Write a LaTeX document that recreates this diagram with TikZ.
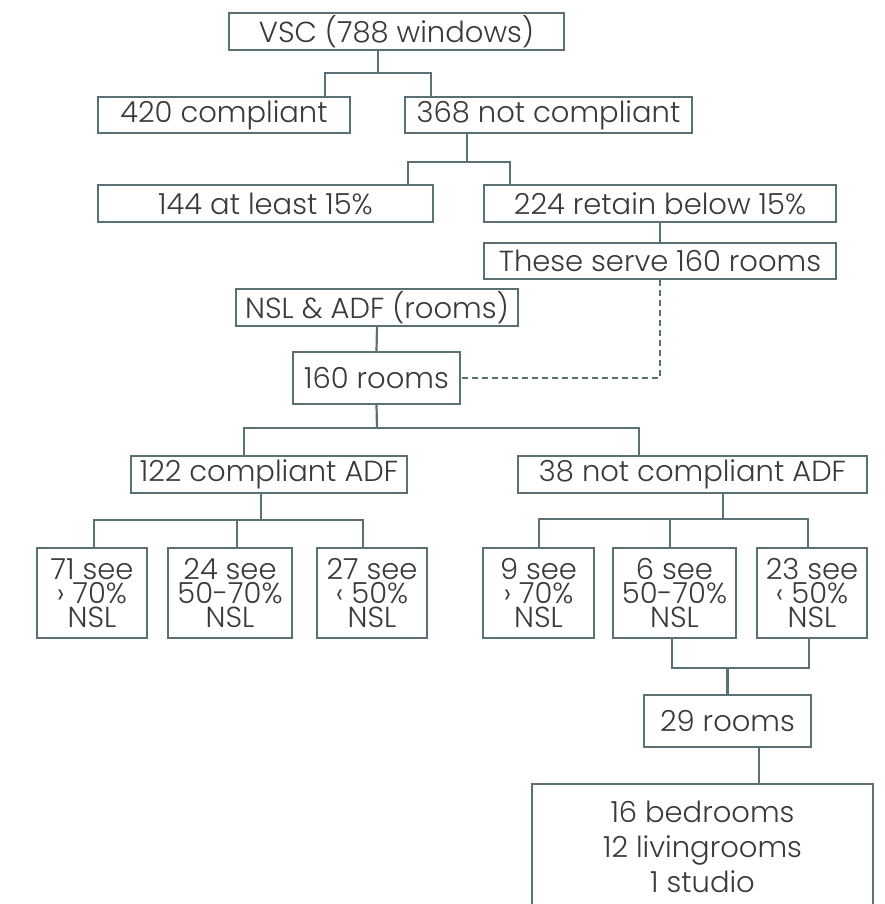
\documentclass[tikz,border=0pt]{standalone}
\usepackage{fontspec}
\setmainfont{Poppins}[UprightFont={* Light}]
\definecolor{boxline}{HTML}{5B7073}
\definecolor{ink}{HTML}{3A3A3A}
\begin{document}
\begin{tikzpicture}[x=1pt,y=-1pt,
  ln/.style={draw=boxline, line width=2.2pt},
  bx/.style={draw=boxline, line width=2.2pt, fill=white, inner sep=0pt,
    align=center, text=ink, font=\fontsize{29}{24}\selectfont},
  bigbox/.style={bx, font=\fontsize{29}{35}\selectfont},
]
\useasboundingbox (0,0) rectangle (884,904);
\clip (0,0) rectangle (884,904);

% window level (VSC)
\node[bx, minimum width=335pt, minimum height=37pt] (vsc) at (396.5,31.5) {VSC (788 windows)};
\node[bx, minimum width=252pt, minimum height=36pt] (c420) at (224,115) {420 compliant};
\node[bx, minimum width=287pt, minimum height=36pt] (c368) at (548.5,115) {368 not compliant};
\node[bx, minimum width=335pt, minimum height=37pt] (c144) at (265.5,203.5) {144 at least 15\%};
\node[bx, minimum width=352pt, minimum height=37pt] (c224) at (660,203.5) {224 retain below 15\%};
\node[bx, minimum width=352pt, minimum height=36pt] (serve) at (660,261) {These serve 160 rooms};

% room level (NSL & ADF)
\node[bx, minimum width=282pt, minimum height=37pt] (nsl) at (377,307.5) {NSL \& ADF (rooms)};
\node[bx, minimum width=167pt, minimum height=52pt] (r160) at (376.5,378) {160 rooms};
\node[bx, minimum width=276pt, minimum height=37pt] (a122) at (269,474.5) {122 compliant ADF};
\node[bx, minimum width=349pt, minimum height=37pt] (a38) at (692.5,474.5) {38 not compliant ADF};

\node[bx, minimum width=110pt, minimum height=90pt] (s71) at (92,593) {71 see\\› 70\%\\NSL};
\node[bx, minimum width=124pt, minimum height=90pt] (s24) at (230,593) {24 see\\50-70\%\\NSL};
\node[bx, minimum width=110pt, minimum height=90pt] (s27) at (372,593) {27 see\\‹ 50\%\\NSL};
\node[bx, minimum width=111pt, minimum height=90pt] (s9) at (538.5,593) {9 see\\› 70\%\\NSL};
\node[bx, minimum width=123pt, minimum height=90pt] (s6) at (674.5,593) {6 see\\50-70\%\\NSL};
\node[bx, minimum width=110pt, minimum height=90pt] (s23) at (812,593) {23 see\\‹ 50\%\\NSL};

\node[bx, minimum width=167pt, minimum height=52pt] (r29) at (727.5,721) {29 rooms};
\node[bigbox, minimum width=341pt, minimum height=126pt] (rt) at (702.5,847) {16 bedrooms\\12 livingrooms\\1 studio};

% junction points of the tree
\coordinate (j1) at (378,73);
\coordinate (j2) at (467,162);
\coordinate (j3) at (377,428);
\coordinate (j4) at (261,520);
\coordinate (j5) at (723,519);
\coordinate (j6) at (727.5,668);

\draw[ln] (j1 |- vsc.south) -- (j1);
\draw[ln] (c420.north -| 325,0) |- (j1) -| (c368.north -| 431,0);

\draw[ln] (j2 |- c368.south) -- (j2);
\draw[ln] (c144.north -| 408,0) |- (j2) -| (c224.north -| 510,0);
\draw[ln] (c224.south) -- (serve.north);
\draw[ln, dash pattern=on 6pt off 4pt] (serve.south) |- (r160.east);

\draw[ln] (nsl.south) -- (r160.north);
\draw[ln] (r160.south) -- (j3);
\draw[ln] (a122.north -| 244,0) |- (j3) -| (a38.north -| 639,0);

\draw[ln] (j4 |- a122.south) -- (j4);
\draw[ln] (s71.north -| 94,0) |- (j4) -| (s27.north -| 363,0);
\draw[ln] (s24.north -| 237,0) -- (j4 -| 237,0);

\draw[ln] (j5 |- a38.south) -- (j5);
\draw[ln] (s9.north -| 539,0) |- (j5) -| (s23.north -| 808,0);
\draw[ln] (s6.north -| 670,0) -- (j5 -| 670,0);

\draw[ln] (s6.south -| 672,0) |- (j6) -| (s23.south -| 809,0);
\draw[ln] (j6) -- (r29.north);
\draw[ln] (r29.south -| 759,0) -- (rt.north -| 759,0);
\end{tikzpicture}
\end{document}
